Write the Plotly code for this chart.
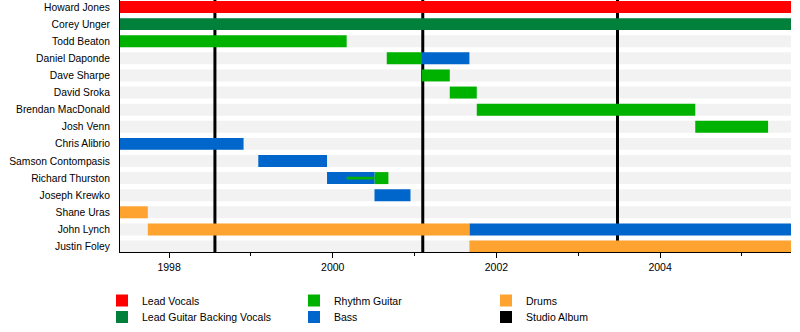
import plotly.graph_objects as go

# Band line-up, top to bottom
members = [
    "Howard Jones", "Corey Unger", "Todd Beaton", "Daniel Daponde",
    "Dave Sharpe", "David Sroka", "Brendan MacDonald", "Josh Venn",
    "Chris Alibrio", "Samson Contompasis", "Richard Thurston",
    "Joseph Krewko", "Shane Uras", "John Lynch", "Justin Foley",
]

# Timeline period (decimal years)
period_start = 1997.40
period_end = 2005.60

roles = ["Lead Vocals", "Lead Guitar Backing Vocals", "Rhythm Guitar", "Bass", "Drums"]
role_colors = ["#FF0000", "#00803A", "#00B200", "#0066CC", "#FFA330"]
# legend rows: vocals, rhythm, drums / lead guitar, bass, album
role_legend = ["legend", "legend2", "legend", "legend2", "legend"]

# Main stints
seg_member = [
    "Howard Jones", "Corey Unger", "Todd Beaton",
    "Daniel Daponde", "Daniel Daponde", "Dave Sharpe", "David Sroka",
    "Brendan MacDonald", "Josh Venn", "Chris Alibrio", "Samson Contompasis",
    "Richard Thurston", "Richard Thurston", "Joseph Krewko",
    "Shane Uras", "John Lynch", "John Lynch", "Justin Foley",
]
seg_role = [
    "Lead Vocals", "Lead Guitar Backing Vocals", "Rhythm Guitar",
    "Rhythm Guitar", "Bass", "Rhythm Guitar", "Rhythm Guitar",
    "Rhythm Guitar", "Rhythm Guitar", "Bass", "Bass",
    "Bass", "Rhythm Guitar", "Bass",
    "Drums", "Drums", "Bass", "Drums",
]
seg_start = [
    1997.40, 1997.40, 1997.40,
    2000.66, 2001.09, 2001.09, 2001.43,
    2001.76, 2004.43, 1997.40, 1999.09,
    1999.93, 2000.51, 2000.51,
    1997.40, 1997.74, 2001.67, 2001.67,
]
seg_end = [
    2005.60, 2005.60, 2000.17,
    2001.09, 2001.67, 2001.43, 2001.76,
    2004.43, 2005.32, 1998.91, 1999.93,
    2000.51, 2000.68, 2000.95,
    1997.74, 2001.67, 2005.60, 2005.60,
]

# Secondary stints drawn as a thin bar inside the main one
extra_member = ["Richard Thurston"]
extra_role = ["Rhythm Guitar"]
extra_start = [2000.17]
extra_end = [2000.51]

# Studio album releases
album_years = [1998.56, 2001.10, 2003.48]

FONT = "Liberation Sans, Arial, sans-serif"
Y_RANGE = [len(members) - 1 + 0.32, -0.41]

fig = go.Figure()

for role, color, lg in zip(roles, role_colors, role_legend):
    idx = [i for i, r in enumerate(seg_role) if r == role]
    fig.add_trace(go.Bar(
        orientation="h",
        y=[seg_member[i] for i in idx],
        x=[seg_end[i] - seg_start[i] for i in idx],
        base=[seg_start[i] for i in idx],
        width=0.7,
        marker=dict(color=color, line=dict(width=0)),
        name=role,
        legendgroup=role,
        legend=lg,
        hoverinfo="skip",
    ))

for role, color in zip(roles, role_colors):
    idx = [i for i, r in enumerate(extra_role) if r == role]
    if not idx:
        continue
    fig.add_trace(go.Bar(
        orientation="h",
        y=[extra_member[i] for i in idx],
        x=[extra_end[i] - extra_start[i] for i in idx],
        base=[extra_start[i] for i in idx],
        width=0.16,
        marker=dict(color=color, line=dict(width=0)),
        name=role,
        legendgroup=role,
        showlegend=False,
        hoverinfo="skip",
    ))

# legend entry for the album markers
fig.add_trace(go.Bar(
    orientation="h", x=[None], y=[None],
    marker=dict(color="black", line=dict(width=0)),
    name="Studio Album", legend="legend2",
))

shapes = []
# light grey row backgrounds
for i, _ in enumerate(members):
    shapes.append(dict(
        type="rect", xref="x", yref="y",
        x0=period_start, x1=period_end, y0=i - 0.35, y1=i + 0.35,
        fillcolor="#F2F2F2", line=dict(width=0), layer="below",
    ))
# album release lines, above the row backgrounds but behind the member bars
for yr in album_years:
    shapes.append(dict(
        type="line", xref="x", yref="y",
        x0=yr, x1=yr, y0=Y_RANGE[0], y1=Y_RANGE[1],
        line=dict(color="black", width=3), layer="below",
    ))

legend_common = dict(
    orientation="h", xref="container", yref="container",
    x=102 / 800, xanchor="left", yanchor="middle",
    entrywidth=147, entrywidthmode="pixels",
    font=dict(family=FONT, size=10.5, color="black"),
    bgcolor="rgba(0,0,0,0)", traceorder="normal",
)

fig.update_layout(
    width=800, height=332,
    margin=dict(l=120, r=9, t=0, b=80),
    barmode="overlay",
    plot_bgcolor="white", paper_bgcolor="white",
    font=dict(family=FONT, size=10.5, color="black"),
    shapes=shapes,
    showlegend=True,
    legend=dict(legend_common, y=1 - 300.5 / 332),
    legend2=dict(legend_common, y=1 - 317 / 332),
    xaxis=dict(
        range=[period_start, period_end], autorange=False,
        tick0=1998, dtick=2, ticks="outside", ticklen=5, tickcolor="black",
        showline=True, linecolor="black", linewidth=1,
        showgrid=False, zeroline=False,
        tickfont=dict(family=FONT, size=10.5, color="black"),
        minor=dict(tick0=1997, dtick=1, ticks="outside", ticklen=3,
                   tickcolor="black", showgrid=False),
    ),
    yaxis=dict(
        type="category", categoryorder="array", categoryarray=members,
        range=Y_RANGE, autorange=False,
        showline=True, linecolor="black", linewidth=1,
        ticks="outside", ticklen=7, tickcolor="rgba(0,0,0,0)",
        showgrid=False, zeroline=False,
        tickfont=dict(family=FONT, size=10.3, color="black"),
    ),
)

fig.write_html("out.html")
